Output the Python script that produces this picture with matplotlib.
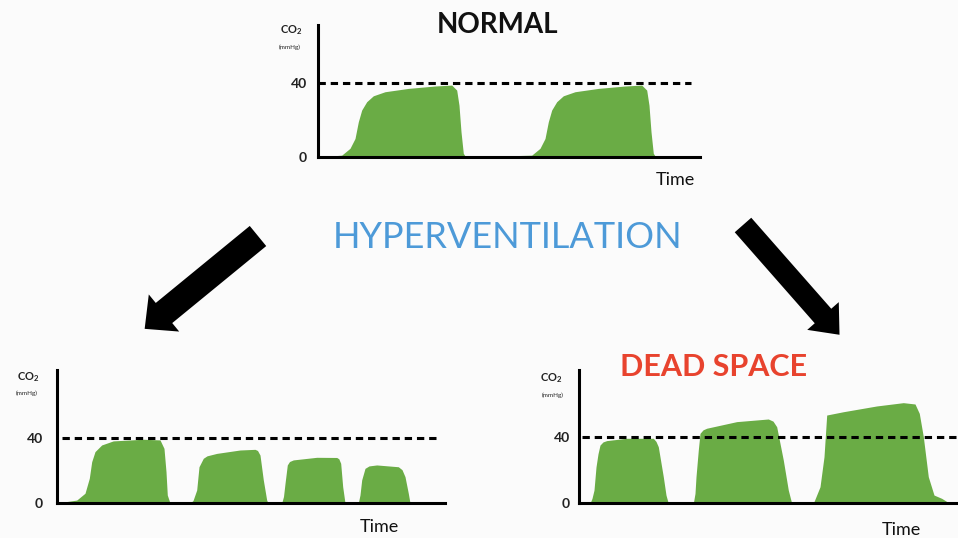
import matplotlib
matplotlib.use("Agg")
import matplotlib.pyplot as plt
from matplotlib.patches import FancyArrow

plt.rcParams['font.family'] = ['Lato', 'DejaVu Sans']
plt.rcParams['mathtext.default'] = 'regular'

W, H = 958, 538
bg = '#fbfbfb'
green = '#6aac45'

# ---- data (time in arbitrary units, CO2 in mmHg) ----
# NORMAL
normal_t = [0, 23.7, 32, 37, 40.3, 43.7, 48.7, 55.3, 67, 90.3, 117, 133.7, 138.7, 141, 143, 145.3, 147.7,
            213.7, 222, 227, 230.3, 233.7, 238.7, 245.3, 257, 280.3, 307, 323.7, 328.7, 331, 333, 335.3, 337.7, 382]
normal_co2 = [0, 1, 4.7, 10, 19, 25.4, 29.9, 33.1, 35.3, 37.1, 38.4, 38.9, 36.2, 28, 13.7, 2, 0,
              1, 4.7, 10, 19, 25.4, 29.9, 33.1, 35.3, 37.1, 38.4, 38.9, 36.2, 28, 13.7, 2, 0, 0]

# HYPERVENTILATION (falling plateaus)
hyper_t = [0, 19.7, 28, 32.3, 34.7, 38, 44.7, 56.3, 86.3, 103, 107, 109, 110.3, 113,
           133, 136, 139.7, 142, 146.3, 150, 159.7, 183, 198, 200.5, 203, 206.3, 209.7, 211,
           224.7, 226.5, 228, 230.3, 232.5, 236.3, 259.7, 279.7, 281.8, 283.7, 285.7, 288,
           301.3, 303, 304.7, 308, 312, 319.7, 341.3, 345, 348, 351.3, 353, 388]
hyper_co2 = [0, 1.8, 6, 15.2, 25.4, 31.6, 35.7, 38.2, 39.2, 38.8, 33.6, 19.3, 4.9, 0,
             0, 1.5, 8, 22.3, 27.5, 29, 30.5, 32.6, 33, 32.3, 29.5, 14.2, 1.8, 0,
             0, 4, 12, 23.4, 25.5, 26.5, 28.1, 28, 27.2, 24.4, 10, 0,
             0, 5, 14.2, 21.3, 22.8, 23.4, 22.3, 20.5, 16.2, 6, 0, 0]

# DEAD SPACE (rising plateaus)
dead_t = [0, 11, 13, 15, 17, 19, 21, 24, 27.7, 47.7, 74.3, 77, 79.3, 84.3, 87, 89.3,
          114.3, 116, 117, 119.3, 121, 124, 127.7, 157.7, 189.3, 194, 197.7, 204.3, 209.3, 212.7,
          234.3, 241, 245, 247.7, 264.3, 297.7, 324.3, 336, 340.3, 344.3, 349.3, 355, 362.7, 369.3, 379]
dead_co2 = [0, 0, 3, 8, 22, 30, 35.3, 37.2, 38, 39.4, 39.4, 37.5, 34.3, 16.1, 5, 0,
            0, 6, 16.1, 32.3, 42.4, 44.5, 45.5, 49.5, 51.1, 49.8, 46.4, 26.2, 8, 0,
            0, 10, 28.2, 53.5, 55.5, 59, 61, 60.2, 54.5, 40.4, 16.1, 5, 3, 0.5, 0]

normal_level = 40
ref_span = {'normal': (0, 373), 'hyper': (5, 381), 'dead': (3, 379)}
ymax = {'normal': 71.4, 'hyper': 81.8, 'dead': 80.8}
xmax = {'normal': 382, 'hyper': 388, 'dead': 379}

fig = plt.figure(figsize=(W / 100, H / 100), dpi=100, facecolor=bg)

# overlay in pixel units for titles and arrows
ov = fig.add_axes([0, 0, 1, 1], zorder=0)
ov.set_xlim(0, W)
ov.set_ylim(H, 0)
ov.axis('off')


def panel(left, top, right, bottom, t, co2, key, pad):
    ax = fig.add_axes([left / W, 1 - bottom / H, (right - left) / W, (bottom - top) / H], zorder=2)
    ax.patch.set_alpha(0)
    ax.fill_between(t, co2, 0, color=green, lw=0)
    x0, x1 = ref_span[key]
    ax.hlines(normal_level, x0, x1, colors='black', lw=2.2, linestyles=(0, (2.4, 1.6)))
    ax.set_xlim(0, xmax[key])
    ax.set_ylim(0, ymax[key])
    for s in ['top', 'right']:
        ax.spines[s].set_visible(False)
    for s in ['left', 'bottom']:
        ax.spines[s].set_linewidth(2.2)
        ax.spines[s].set_color('black')
    ax.set_xticks([])
    ax.set_yticks([0, 40])
    ax.set_yticklabels(['0', '40'], fontsize=10, fontweight='bold', color='#222222')
    ax.tick_params(axis='y', length=0, pad=pad)
    return ax


panel(318, 25, 700, 157, normal_t, normal_co2, 'normal', 8)
panel(57, 370, 445, 503, hyper_t, hyper_co2, 'hyper', 10)
panel(579, 370, 958, 503.3, dead_t, dead_co2, 'dead', 6.5)

# axis captions
for x, y in [(291, 30), (28, 377), (551, 378)]:
    ov.text(x, y, 'CO$_2$', fontsize=8, fontweight='bold', ha='center', va='center', color='#222222')
for x, y in [(290, 47), (27, 393), (553, 395)]:
    ov.text(x, y, '(mmHg)', fontsize=4.5, ha='center', va='center', color='#222222')
for x, y in [(675, 180), (379, 527), (901, 530)]:
    ov.text(x, y, 'Time', fontsize=13, ha='center', va='center', color='#111111')

ov.text(498, 25, 'NORMAL', fontsize=20, fontweight='bold', ha='center', va='center', color='#111111')
ov.text(714, 367, 'DEAD SPACE', fontsize=22, fontweight='bold', ha='center', va='center', color='#e8432e')
ov.text(508, 237, 'HYPERVENTILATION', fontsize=26, ha='center', va='center', color='#4d9ad8')

# arrows
ov.add_patch(FancyArrow(258, 236, -111 + 17, 91 - 14, width=26, head_width=48, head_length=25,
                        length_includes_head=False, color='black', lw=0))
ov.add_patch(FancyArrow(743, 225, 97 - 17, 110 - 19, width=22, head_width=42, head_length=25,
                        length_includes_head=False, color='black', lw=0))

fig.savefig('out.png', dpi=100, facecolor=bg)
